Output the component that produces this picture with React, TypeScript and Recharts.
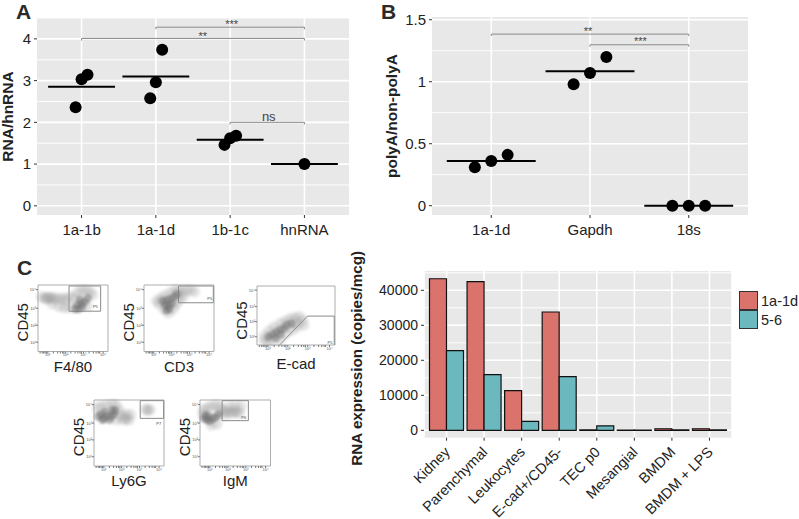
import {
  Bar,
  BarChart,
  CartesianGrid,
  Legend,
  ReferenceArea,
  ReferenceDot,
  ReferenceLine,
  Scatter,
  ScatterChart,
  XAxis,
  YAxis,
} from "recharts";

const FONT = "'Liberation Sans', Arial, sans-serif";
const INK = "#222222";
const PANEL = "#e8e8e8";
const BRACKET = "#8a8a8a";

// panel A
const rnaCategories = ["1a-1b", "1a-1d", "1b-1c", "hnRNA"];
const rnaPoints = [
  { x: 0.92, y: 2.36 },
  { x: 1.0, y: 3.03 },
  { x: 1.08, y: 3.14 },
  { x: 1.924, y: 2.58 },
  { x: 2.0, y: 2.96 },
  { x: 2.085, y: 3.74 },
  { x: 2.924, y: 1.46 },
  { x: 3.0, y: 1.62 },
  { x: 3.08, y: 1.68 },
  { x: 4.0, y: 1.0 },
];
const rnaMeans = [2.85, 3.1, 1.58, 1.0];
const rnaBrackets = [
  { from: 2, to: 4, y: 4.28 },
  { from: 1, to: 4, y: 4.01 },
  { from: 3, to: 4, y: 2.0 },
];
const rnaNotes = [
  { x: 3.02, y: 4.36, text: "***", size: 11 },
  { x: 2.63, y: 4.07, text: "**", size: 11 },
  { x: 3.52, y: 2.15, text: "ns", size: 13 },
];

// panel B
const polyCategories = ["1a-1d", "Gapdh", "18s"];
const polyPoints = [
  { x: 0.834, y: 0.31 },
  { x: 1.0, y: 0.36 },
  { x: 1.166, y: 0.41 },
  { x: 1.834, y: 0.98 },
  { x: 2.0, y: 1.07 },
  { x: 2.166, y: 1.2 },
  { x: 2.834, y: 0 },
  { x: 3.0, y: 0 },
  { x: 3.166, y: 0 },
];
const polyMeans = [0.36, 1.085, 0];
const polyBrackets = [
  { from: 1, to: 3, y: 1.384 },
  { from: 2, to: 3, y: 1.298 },
];
const polyNotes = [
  { x: 1.98, y: 1.41, text: "**", size: 11 },
  { x: 2.51, y: 1.325, text: "***", size: 11 },
];

// panel D
const cellTypes = [
  "Kidney",
  "Parenchymal",
  "Leukocytes",
  "E-cad+/CD45-",
  "TEC p0",
  "Mesangial",
  "BMDM",
  "BMDM + LPS",
];
const isoform1a1d = [43300, 42470, 11330, 33800, 100, 50, 450, 450];
const isoform56 = [22760, 15900, 2570, 15330, 1240, 30, 100, 100];
const expressionRows = cellTypes.map((name, i) => ({
  name,
  a: isoform1a1d[i],
  b: isoform56[i],
}));

const pts = (list: number[][]) => list.map(([x, y]) => ({ x, y }));

const f480Core = pts([[53, 64], [58, 64], [63, 67], [56, 70], [62, 72], [67, 75], [71, 80], [60, 78]]);
const f480Haze = pts([
  [5, 82], [10, 80], [12, 80], [15, 81], [18, 81], [20, 80], [25, 80], [30, 79], [35, 80], [40, 78], [45, 82],
  [52, 80], [56, 88], [62, 92], [68, 92], [74, 90], [78, 85], [30, 68], [38, 66], [45, 66], [20, 72], [70, 68],
]);
const f480Gate = pts([[44.3, 60.6], [89.5, 60.6], [89.5, 98.5], [44.3, 98.5], [44.3, 60.6]]);

const cd3Core = pts([[32, 62], [36, 64], [30, 70], [35, 70], [40, 72], [27, 76], [33, 77], [38, 79], [43, 82], [47, 86]]);
const cd3Haze = pts([
  [18, 76], [22, 72], [24, 80], [28, 64], [35, 58], [42, 64], [46, 72], [30, 84], [38, 88], [44, 92], [50, 92],
  [54, 88], [60, 92], [66, 92], [72, 90], [56, 82], [50, 78],
]);
const cd3Gate = pts([[49.3, 73.3], [99, 73.3], [99, 98.5], [49.3, 98.5], [49.3, 73.3]]);

const ecadCore = pts([[15, 14], [20, 18], [25, 22], [30, 26], [35, 28], [38, 34], [44, 36], [30, 18], [24, 12]]);
const ecadHaze = pts([
  [9, 8], [14, 6], [10, 16], [20, 8], [30, 10], [16, 24], [22, 30], [30, 36], [36, 40], [42, 44], [48, 46],
  [54, 48], [58, 42], [60, 34], [52, 32], [46, 26], [38, 20], [50, 38],
]);
const ecadGate = pts([[29, 0], [64.7, 49], [99, 49], [99, 0]]);

const ly6gCore = pts([[6, 75], [10, 78], [14, 72], [18, 76], [22, 70], [24, 75], [28, 78], [30, 84], [26, 84], [16, 82], [12, 70]]);
const ly6gHaze = pts([
  [5, 88], [10, 90], [18, 92], [26, 94], [32, 92], [36, 84], [38, 76], [32, 70], [42, 70], [46, 72], [50, 70],
  [45, 78], [52, 78], [74, 86], [77, 85], [80, 85],
]);
const ly6gGate = pts([[66, 72.2], [99.5, 72.2], [99.5, 99], [66, 99], [66, 72.2]]);

const igmCore = pts([[6, 72], [10, 70], [14, 68], [18, 72], [22, 74], [26, 78], [12, 75], [8, 77]]);
const igmHaze = pts([
  [5, 85], [10, 88], [16, 90], [22, 92], [28, 90], [30, 84], [34, 78], [36, 84], [40, 82], [44, 80], [48, 82],
  [52, 82], [56, 80], [42, 90], [50, 90], [58, 90], [16, 62], [24, 64], [4, 78],
]);
const igmGate = pts([[31.4, 68.7], [68.6, 68.7], [68.6, 99], [31.4, 99], [31.4, 68.7]]);

const flowTicksMajor = [14, 39.5, 65, 93];
const flowTicksMinor = [3, 6, 8, 10, 12, 22, 28, 32, 35, 37, 47, 53, 57, 60, 62, 73, 79, 83, 86, 88];
const flowTickNames = ["10¹", "10²", "10³", "10⁴"];

function Dot(props: any) {
  return (
    <circle
      cx={props.cx}
      cy={props.cy}
      r={props.r}
      fill={props.fill}
      fillOpacity={props.opacity}
      style={{ filter: `blur(${props.blur}px)` }}
    />
  );
}

function Flow({ left, top, w, h, xLabel, core, haze, gate, tag, tagAt, labelGap, titleShift }: any) {
  const segs = gate.slice(1).map((p: any, i: number) => [gate[i], p]);
  return (
    <div style={{ position: "absolute", left: left - 30, top: top - 2 }}>
      <ScatterChart
        width={w + 33}
        height={h + 32}
        margin={{ top: 2, right: 3, bottom: 0, left: 0 }}
      >
        <ReferenceArea x1={0} x2={100} y1={0} y2={100} fill="#ffffff" stroke="#adadad" strokeWidth={1} />
        <XAxis
          type="number"
          dataKey="x"
          domain={[0, 100]}
          ticks={[...flowTicksMajor, ...flowTicksMinor].sort((a, b) => a - b)}
          interval={0}
          tickFormatter={(v: number) => {
            const i = flowTicksMajor.indexOf(v);
            return i < 0 ? "" : flowTickNames[i];
          }}
          height={30}
          axisLine={false}
          tickSize={2}
          tickMargin={0}
          tickLine={{ stroke: "#777" }}
          tick={{ fontSize: 4, fill: "#555", fontFamily: FONT }}
          label={{
            value: xLabel,
            position: "insideBottom",
            offset: labelGap,
            style: { fontSize: 15, fill: INK, fontFamily: FONT },
          }}
        />
        <YAxis
          type="number"
          dataKey="y"
          domain={[0, 100]}
          ticks={flowTicksMajor}
          interval={0}
          tickFormatter={(v: number) => flowTickNames[flowTicksMajor.indexOf(v)]}
          width={30}
          axisLine={false}
          tickSize={2}
          tickMargin={0}
          tickLine={{ stroke: "#777" }}
          tick={{ fontSize: 4, fill: "#555", fontFamily: FONT }}
          label={{
            value: "CD45",
            angle: -90,
            position: "insideLeft",
            offset: 15,
            dy: titleShift,
            style: { fontSize: 15, fill: INK, fontFamily: FONT, textAnchor: "middle" },
          }}
        />
        <Scatter
          data={haze}
          isAnimationActive={false}
          shape={(p: any) => <Dot {...p} r={5.5} fill="#9a9a9a" opacity={0.28} blur={1.5} />}
        />
        <Scatter
          data={core}
          isAnimationActive={false}
          shape={(p: any) => <Dot {...p} r={4.2} fill="#707070" opacity={0.5} blur={1.2} />}
        />
        {segs.map((s: any, i: number) => (
          <ReferenceLine key={i} segment={s} stroke="#8a8a8a" strokeWidth={1} />
        ))}
        <ReferenceDot
          x={tagAt[0]}
          y={tagAt[1]}
          r={0}
          fill="none"
          stroke="none"
          label={{ value: tag, position: "center", style: { fontSize: 4, fill: "#444", fontFamily: FONT } }}
        />
      </ScatterChart>
    </div>
  );
}

function Strip({ left, top, width, height, plot, xDomain, yDomain, yTicks, yMinor, cats, points, means, brackets, notes, title, tipDrop, titleGap, titleSize }: any) {
  const xTicks = cats.map((_: string, i: number) => i + 1);
  return (
    <div style={{ position: "absolute", left, top }}>
      <ScatterChart width={width} height={height} margin={{ top: plot.top, right: plot.right, bottom: 0, left: 0 }}>
        <CartesianGrid fill={PANEL} stroke="#ffffff" strokeWidth={0.9} vertical={false} horizontalValues={yMinor} />
        <CartesianGrid stroke="#ffffff" strokeWidth={1.6} horizontalValues={yTicks} verticalValues={xTicks} />
        <XAxis
          type="number"
          dataKey="x"
          domain={xDomain}
          ticks={xTicks}
          interval={0}
          tickFormatter={(v: number) => cats[v - 1]}
          height={plot.xh}
          axisLine={false}
          tickSize={3}
          tickMargin={6}
          tickLine={{ stroke: "#333" }}
          tick={{ fontSize: 15, fill: INK, fontFamily: FONT }}
        />
        <YAxis
          type="number"
          dataKey="y"
          domain={yDomain}
          ticks={yTicks}
          interval={0}
          allowDataOverflow
          width={plot.left}
          axisLine={false}
          tickSize={3}
          tickMargin={3}
          tickLine={{ stroke: "#333" }}
          tick={{ fontSize: 15, fill: INK, fontFamily: FONT }}
          label={{
            value: title,
            angle: -90,
            position: "insideLeft",
            offset: titleGap,
            style: { fontSize: titleSize, fontWeight: 700, fill: INK, fontFamily: FONT, textAnchor: "middle" },
          }}
        />
        {means.map((m: number, i: number) => (
          <ReferenceLine
            key={i}
            segment={[
              { x: i + 0.55, y: m },
              { x: i + 1.45, y: m },
            ]}
            stroke="#000"
            strokeWidth={2}
          />
        ))}
        {brackets.map((b: any, i: number) => (
          <ReferenceLine
            key={`top${i}`}
            segment={[
              { x: b.from, y: b.y },
              { x: b.to, y: b.y },
            ]}
            stroke={BRACKET}
            strokeWidth={1}
          />
        ))}
        {brackets.flatMap((b: any, i: number) =>
          [b.from, b.to].map((x: number, j: number) => (
            <ReferenceLine
              key={`tip${i}${j}`}
              segment={[
                { x, y: b.y },
                { x, y: b.y - tipDrop },
              ]}
              stroke={BRACKET}
              strokeWidth={1}
            />
          ))
        )}
        {notes.map((n: any) => (
          <ReferenceDot
            key={n.text + n.x}
            x={n.x}
            y={n.y}
            r={0}
            fill="none"
            stroke="none"
            label={{ value: n.text, position: "center", style: { fontSize: n.size, fill: "#444", fontFamily: FONT } }}
          />
        ))}
        <Scatter
          data={points}
          isAnimationActive={false}
          shape={(p: any) => <circle cx={p.cx} cy={p.cy} r={6} fill="#000" />}
        />
      </ScatterChart>
    </div>
  );
}

const letter = (text: string, left: number, top: number) => (
  <div
    style={{
      position: "absolute",
      left,
      top,
      fontFamily: FONT,
      fontWeight: 700,
      fontSize: 21,
      lineHeight: "21px",
      color: "#2a2a2a",
    }}
  >
    {text}
  </div>
);

function ExpressionLegend() {
  const rows = [
    { name: "1a-1d", fill: "#d9736c" },
    { name: "5-6", fill: "#6bb8bf" },
  ];
  return (
    <div style={{ fontFamily: FONT, fontSize: 14.5, color: INK }}>
      {rows.map((r) => (
        <div key={r.name} style={{ display: "flex", alignItems: "center", height: 19 }}>
          <div
            style={{
              boxSizing: "border-box",
              width: 19,
              height: 19,
              background: r.fill,
              border: "1.2px solid #333",
              marginRight: 3,
            }}
          />
          {r.name}
        </div>
      ))}
    </div>
  );
}

export default function App() {
  return (
    <div style={{ position: "absolute", left: 0, top: 0, width: 799, height: 519, background: "#fff", overflow: "hidden" }}>
      <Strip
        left={0}
        top={0}
        width={370}
        height={250}
        plot={{ top: 18, right: 21, left: 37, xh: 35 }}
        xDomain={[0.4, 4.6]}
        yDomain={[-0.22, 4.5]}
        yTicks={[0, 1, 2, 3, 4]}
        yMinor={[0.5, 1.5, 2.5, 3.5, 4.5]}
        cats={rnaCategories}
        points={rnaPoints}
        means={rnaMeans}
        brackets={rnaBrackets}
        notes={rnaNotes}
        title="RNA/hnRNA"
        tipDrop={0.05}
        titleGap={7}
        titleSize={15.5}
      />
      <Strip
        left={380}
        top={0}
        width={390}
        height={250}
        plot={{ top: 17, right: 22, left: 52, xh: 35 }}
        xDomain={[0.4, 3.6]}
        yDomain={[-0.075, 1.522]}
        yTicks={[0, 0.5, 1, 1.5]}
        yMinor={[0.25, 0.75, 1.25]}
        cats={polyCategories}
        points={polyPoints}
        means={polyMeans}
        brackets={polyBrackets}
        notes={polyNotes}
        title="polyA/non-polyA"
        tipDrop={0.016}
        titleGap={11}
        titleSize={15.5}
      />

      <Flow left={38} top={285} w={70} h={66.5} xLabel="F4/80" core={f480Core} haze={f480Haze} gate={f480Gate} tag="P5" tagAt={[82, 68]} labelGap={10} titleShift={4} />
      <Flow left={144} top={285} w={70} h={66.5} xLabel="CD3" core={cd3Core} haze={cd3Haze} gate={cd3Gate} tag="P5" tagAt={[94, 79.5]} labelGap={10} titleShift={4} />
      <Flow left={257} top={286} w={78} h={59} xLabel="E-cad" core={ecadCore} haze={ecadHaze} gate={ecadGate} tag="P5" tagAt={[93.5, 3.5]} labelGap={6} titleShift={5} />
      <Flow left={94} top={400} w={70} h={66} xLabel="Ly6G" core={ly6gCore} haze={ly6gHaze} gate={ly6gGate} tag="P7" tagAt={[92.5, 65]} labelGap={10} titleShift={4} />
      <Flow left={200} top={400} w={70.5} h={66} xLabel="IgM" core={igmCore} haze={igmHaze} gate={igmGate} tag="P6" tagAt={[62, 73]} labelGap={10} titleShift={4} />

      <div style={{ position: "absolute", left: 340, top: 240 }}>
        <BarChart
          width={459}
          height={279}
          data={expressionRows}
          margin={{ top: 31, right: 67, bottom: 0, left: 0 }}
          barCategoryGap={1.75}
          barGap={0}
        >
          <CartesianGrid fill={PANEL} stroke="#ffffff" strokeWidth={0.9} vertical={false} horizontalValues={[5000, 15000, 25000, 35000, 45000]} />
          <CartesianGrid stroke="#ffffff" strokeWidth={1.6} horizontalValues={[0, 10000, 20000, 30000, 40000]} />
          <XAxis
            dataKey="name"
            interval={0}
            padding={{ left: 3.75, right: 3.75 }}
            height={81.3}
            angle={-45}
            textAnchor="end"
            axisLine={false}
            tickSize={3}
            tickMargin={5}
            tickLine={{ stroke: "#333" }}
            tick={{ fontSize: 14.5, fill: INK, fontFamily: FONT, dx: -3 }}
          />
          <YAxis
            domain={[-2114, 45514]}
            ticks={[0, 10000, 20000, 30000, 40000]}
            interval={0}
            allowDataOverflow
            width={84}
            axisLine={false}
            tickSize={3}
            tickMargin={3}
            tickLine={{ stroke: "#333" }}
            tick={{ fontSize: 14, fill: INK, fontFamily: FONT }}
            label={{
              value: "RNA expression (copies/mcg)",
              angle: -90,
              position: "insideLeft",
              offset: 17,
              dy: 4,
              style: { fontSize: 15.2, fontWeight: 700, fill: INK, fontFamily: FONT, textAnchor: "middle" },
            }}
          />
          <Legend
            layout="vertical"
            align="center"
            verticalAlign="middle"
            content={() => <ExpressionLegend />}
            wrapperStyle={{ position: "absolute", left: 399, top: 51, width: 60, bottom: "auto" }}
          />
          <Bar dataKey="a" name="1a-1d" fill="#d9736c" stroke="#111" strokeWidth={1.2} isAnimationActive={false} />
          <Bar dataKey="b" name="5-6" fill="#6bb8bf" stroke="#111" strokeWidth={1.2} isAnimationActive={false} />
        </BarChart>
      </div>

      {letter("A", 16, 1)}
      {letter("B", 381, 1)}
      {letter("C", 17, 257)}
    </div>
  );
}
